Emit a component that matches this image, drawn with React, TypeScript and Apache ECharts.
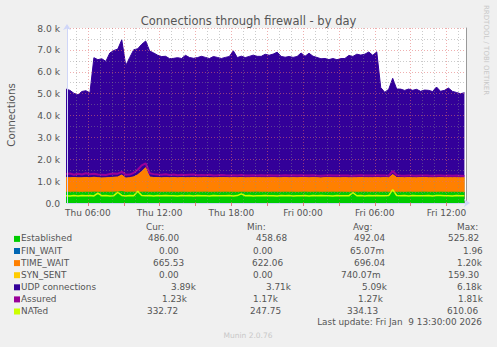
import React, { useEffect, useRef } from 'react';
import * as echarts from 'echarts';

// ---- data (minutes since Thu 00:00, sampled every 20 min from 04:10) ----
const START_MIN = 250;
const STEP_MIN = 20;

const established = [
  492, 488, 495, 490, 486, 493, 489, 497, 491, 488,
  494, 490, 496, 501, 520, 488, 492, 495, 490, 493,
  497, 489, 491, 494, 488, 492, 490, 495, 489, 493,
  491, 487, 494, 490, 492, 496, 488, 491, 493, 489,
  495, 490, 492, 488, 494, 491, 489, 493, 496, 490,
  492, 488, 495, 491, 489, 494, 490, 493, 487, 492,
  496, 489, 491, 494, 488, 492, 490, 495, 489, 493,
  491, 487, 494, 490, 492, 496, 488, 491, 493, 489,
  497, 491, 500, 490, 492, 488, 494, 491, 489, 493,
  496, 490, 492, 488, 495, 491, 489, 494, 490, 488,
  486,
];
const finWait = [
  0, 0, 0, 0, 0, 0, 0, 0, 0, 0, 0, 0, 0, 0, 0, 0, 0, 0, 0, 0,
  0, 0, 0, 0, 0, 0, 0, 0, 0, 0, 0, 0, 0, 0, 0, 0, 0, 0, 0, 0,
  0, 0, 0, 0, 0, 0, 0, 0, 0, 0, 0, 0, 0, 0, 0, 0, 0, 0, 0, 0,
  0, 0, 0, 0, 0, 0, 0, 0, 0, 0, 0, 0, 0, 0, 0, 0, 0, 0, 0, 0,
  0, 0, 0, 0, 0, 0, 0, 0, 0, 0, 0, 0, 0, 0, 0, 0, 0, 0, 0, 0, 0,
];
const timeWait = [
  670, 665, 672, 660, 668, 675, 662, 680, 668, 660,
  655, 672, 680, 690, 760, 650, 668, 700, 800, 950,
  1120, 700, 675, 668, 662, 670, 665, 672, 660, 668,
  664, 670, 676, 662, 668, 665, 671, 660, 667, 673,
  666, 662, 670, 665, 674, 661, 668, 672, 664, 669,
  663, 671, 666, 660, 668, 674, 662, 669, 665, 671,
  667, 662, 673, 665, 660, 669, 672, 664, 668, 663,
  670, 665, 661, 668, 674, 663, 669, 666, 672, 664,
  668, 662, 800, 675, 669, 664, 671, 666, 662, 668,
  673, 665, 660, 669, 667, 664, 670, 663, 668, 662,
  666,
];
const synSent = [
  0, 0, 0, 0, 0, 0, 0, 0, 0, 0, 0, 0, 0, 0, 0, 0, 0, 0, 0, 0,
  0, 0, 0, 0, 0, 0, 0, 0, 0, 0, 0, 0, 0, 0, 0, 0, 0, 0, 0, 0,
  0, 0, 0, 0, 0, 0, 0, 0, 0, 0, 0, 0, 0, 0, 0, 0, 0, 0, 0, 0,
  0, 0, 0, 0, 0, 0, 0, 0, 0, 0, 0, 0, 0, 0, 0, 0, 0, 0, 0, 0,
  0, 0, 0, 0, 0, 0, 0, 0, 0, 0, 0, 0, 0, 0, 0, 0, 0, 0, 0, 0, 0,
];
const udp = [
  4045, 3995, 3845, 3795, 3945, 3965, 3875, 5465, 5395, 5445,
  5325, 5695, 5795, 5845, 6180, 5145, 5495, 5810, 5760, 5810,
  5790, 5760, 5695, 5595, 5545, 5545, 5445, 5445, 5495, 5445,
  5595, 5495, 5445, 5495, 5545, 5495, 5445, 5545, 5495, 5445,
  5495, 5545, 5795, 5495, 5545, 5495, 5545, 5595, 5545, 5545,
  5645, 5595, 5645, 5745, 5545, 5495, 5545, 5495, 5545, 5695,
  5545, 5695, 5545, 5495, 5445, 5445, 5395, 5445, 5395, 5445,
  5445, 5595, 5545, 5645, 5595, 5645, 5745, 5595, 5745, 4125,
  3895, 4045, 4400, 4045, 4045, 3995, 4045, 3995, 4045, 3945,
  3995, 3995, 3945, 4145, 3945, 3995, 4095, 3945, 3895, 3845,
  3890,
];
const assured = [
  1320, 1350, 1290, 1340, 1300, 1360, 1310, 1340, 1300, 1290,
  1280, 1330, 1350, 1340, 1420, 1290, 1300, 1380, 1520, 1720,
  1810, 1360, 1320, 1300, 1290, 1310, 1280, 1300, 1270, 1290,
  1275, 1290, 1300, 1270, 1280, 1265, 1290, 1260, 1270, 1285,
  1265, 1255, 1270, 1260, 1275, 1255, 1262, 1270, 1258, 1264,
  1258, 1268, 1260, 1252, 1262, 1270, 1255, 1265, 1258, 1266,
  1260, 1252, 1268, 1258, 1250, 1262, 1266, 1256, 1260, 1255,
  1262, 1255, 1250, 1260, 1268, 1254, 1262, 1258, 1266, 1255,
  1260, 1250, 1460, 1268, 1258, 1250, 1262, 1255, 1250, 1258,
  1262, 1252, 1248, 1258, 1255, 1250, 1260, 1250, 1256, 1248,
  1230,
];
const nated = [
  335, 320, 340, 325, 345, 330, 338, 322, 450, 330,
  340, 325, 335, 490, 345, 320, 338, 330, 540, 345,
  330, 342, 325, 338, 330, 345, 328, 335, 322, 340,
  330, 338, 325, 342, 330, 335, 320, 340, 328, 336,
  330, 340, 325, 338, 420, 332, 340, 325, 335, 330,
  342, 328, 336, 325, 340, 330, 338, 322, 335, 330,
  338, 325, 340, 330, 345, 328, 335, 322, 340, 330,
  336, 328, 480, 332, 340, 325, 338, 330, 342, 328,
  335, 340, 610, 345, 330, 338, 325, 340, 330, 336,
  328, 340, 325, 338, 345, 330, 336, 322, 340, 330,
  333,
];

const xMin = 255;
const xMax = 2258;
const xLabelValues = [360, 720, 1080, 1440, 1800, 2160];
const xMajorValues = [360, 540, 720, 900, 1080, 1260, 1440, 1620, 1800, 1980, 2160];
const xMinorHours = [5, 7, 8, 10, 11, 13, 14, 16, 17, 19, 20, 22, 23, 25, 26, 28, 29, 31, 32, 34, 35, 37];
const yMinorValues = [500, 1500, 2500, 3500, 4500, 5500, 6500, 7500];

const legendNames = ['Established', 'FIN_WAIT', 'TIME_WAIT', 'SYN_SENT', 'UDP connections', 'Assured', 'NATed'];
const legendColors = ['#00CC00', '#0066B3', '#FF8000', '#FFCC00', '#330099', '#990099', '#CCFF00'];
const curText = ['486.00', '0.00', '665.53', '0.00', '3.89k', '1.23k', '332.72'];
const minText = ['458.68', '0.00', '622.06', '0.00', '3.71k', '1.17k', '247.75'];
const avgText = ['492.04', '65.07m', '696.04', '740.07m', '5.09k', '1.27k', '334.13'];
const maxText = ['525.82', '1.96', '1.20k', '159.30', '6.18k', '1.81k', '610.06'];
const headers = ['Cur:', 'Min:', 'Avg:', 'Max:'];

// text left positions (layout)
const headerX = [146, 247, 353, 457];
const curX = [148, 159, 153, 159, 171, 162, 147];
const minX = [256, 253, 252, 253, 266, 253, 250];
const avgX = [354, 350, 354, 341, 362, 358, 347];
const maxX = [448, 463, 457, 448, 457, 458, 447];

const FONT = '"DejaVu Sans", sans-serif';
const TEXT = '#555';

function fmtTime(v: number) {
  const day = v < 1440 ? 'Thu' : 'Fri';
  const m = v % 1440;
  const hh = String(Math.floor(m / 60)).padStart(2, '0');
  const mm = String(m % 60).padStart(2, '0');
  return `${day} ${hh}:${mm}`;
}

export default function App() {
  const ref = useRef<HTMLDivElement>(null);
  useEffect(() => {
    document.body.style.margin = '0';
    const chart = echarts.init(ref.current!, null, { renderer: 'svg' });
    const times = established.map((_, i) => START_MIN + STEP_MIN * i);

    // cumulative stack tops (rrdtool STACK)
    const layers = [established, finWait, timeWait, synSent, udp];
    const tops: number[][] = [];
    layers.forEach((arr, k) => {
      tops.push(arr.map((v, i) => v + (k > 0 ? tops[k - 1][i] : 0)));
    });
    const pair = (arr: number[]) => arr.map((v, i) => [times[i], v]);

    const area = (name: string, data: number[], color: string, lw: number) => ({
      name,
      type: 'line',
      data: pair(data),
      showSymbol: false,
      symbol: 'none',
      lineStyle: { width: lw, color },
      itemStyle: { color },
      areaStyle: { color, opacity: 1, origin: 'start' },
      z: 2,
    });

    const graphics: any[] = [];
    graphics.push({
      type: 'text', x: 248.5, y: 20.5, z: 100,
      style: { text: 'Connections through firewall - by day', fill: TEXT, font: `11.5px ${FONT}`, textAlign: 'center', textVerticalAlign: 'middle' },
    });
    graphics.push({
      type: 'text', x: 11, y: 115, rotation: Math.PI / 2, z: 100,
      style: { text: 'Connections', fill: TEXT, font: `10.3px ${FONT}`, textAlign: 'center', textVerticalAlign: 'middle' },
    });
    graphics.push({
      type: 'text', x: 486, y: 5, rotation: -Math.PI / 2, z: 100,
      style: { text: 'RRDTOOL / TOBI OETIKER', fill: '#c8c8c8', font: `7px ${FONT}`, textAlign: 'left', textVerticalAlign: 'middle' },
    });
    graphics.push({
      type: 'text', x: 248, y: 335, z: 100,
      style: { text: 'Munin 2.0.76', fill: '#c8c8c8', font: `7.5px ${FONT}`, textAlign: 'center', textVerticalAlign: 'middle' },
    });
    headers.forEach((h, k) => {
      graphics.push({
        type: 'text', x: headerX[k], y: 226.7, z: 100,
        style: { text: h, fill: TEXT, font: `8.9px ${FONT}`, textAlign: 'left', textVerticalAlign: 'middle' },
      });
    });
    legendNames.forEach((n, i) => {
      const y = 238.4 + 12.1 * i;
      graphics.push({ type: 'rect', z: 100, shape: { x: 14, y: y - 2.5, width: 6, height: 6 }, style: { fill: legendColors[i] } });
      const cols: [string, number][] = [
        [n, 21], [curText[i], curX[i]], [minText[i], minX[i]], [avgText[i], avgX[i]], [maxText[i], maxX[i]],
      ];
      cols.forEach(([t, x]) => {
        graphics.push({
          type: 'text', x, y, z: 100,
          style: { text: t, fill: TEXT, font: `8.9px ${FONT}`, textAlign: 'left', textVerticalAlign: 'middle' },
        });
      });
    });
    graphics.push({
      type: 'text', x: 482, y: 321.7, z: 100,
      style: { text: 'Last update: Fri Jan  9 13:30:00 2026', fill: TEXT, font: `8.9px ${FONT}`, textAlign: 'right', textVerticalAlign: 'middle' },
    });

    const option: any = {
      animation: false,
      backgroundColor: '#F0F0F0',
      grid: { left: 67, right: 31, top: 28, bottom: 144, show: true, backgroundColor: '#FFFFFF', borderWidth: 0 },
      xAxis: [
        {
          type: 'value', min: xMin, max: xMax, position: 'bottom', z: 5,
          axisLine: { show: true, lineStyle: { color: '#CFD6F8', width: 1 }, symbol: ['none', 'arrow'], symbolSize: [6, 6], symbolOffset: [0, 4] },
          axisTick: { show: true, customValues: xMajorValues, length: 3, lineStyle: { color: '#e08080' } },
          axisLabel: { customValues: xLabelValues, formatter: (v: number) => fmtTime(v), color: TEXT, fontSize: 9, fontFamily: FONT, margin: 5 },
          splitLine: { show: true, lineStyle: { color: 'rgba(225,110,110,0.55)', type: [1, 2], width: 1 } },
        },
        {
          type: 'value', min: xMin, max: xMax, position: 'top', z: 4,
          axisLine: { show: false }, axisLabel: { show: false },
          axisTick: { show: false, customValues: xMinorHours.map((h) => h * 60) },
          splitLine: { show: true, lineStyle: { color: 'rgba(140,140,140,0.45)', type: [1, 2], width: 1 } },
        },
      ],
      yAxis: [
        {
          type: 'value', min: 0, max: 8000, interval: 1000, position: 'left', z: 5,
          axisLine: { show: true, lineStyle: { color: '#CFD6F8', width: 1 }, symbol: ['none', 'arrow'], symbolSize: [6, 6], symbolOffset: [0, 4] },
          axisTick: { show: false },
          axisLabel: { formatter: (v: number) => (v === 0 ? '0.0' : (v / 1000).toFixed(1) + ' k'), color: TEXT, fontSize: 9.2, fontFamily: FONT, margin: 7 },
          splitLine: { show: true, lineStyle: { color: 'rgba(225,110,110,0.55)', type: [1, 2], width: 1 } },
        },
        {
          type: 'value', min: 0, max: 8000, position: 'right', z: 4,
          axisLine: { show: true, lineStyle: { color: '#999', width: 1 } },
          axisLabel: { show: false },
          axisTick: { show: false, customValues: yMinorValues },
          splitLine: { show: true, lineStyle: { color: 'rgba(140,140,140,0.45)', type: [1, 2], width: 1 } },
        },
      ],
      graphic: graphics,
      series: [
        area('UDP connections', tops[4], '#330099', 1),
        area('SYN_SENT', tops[3], '#FFCC00', 0),
        area('TIME_WAIT', tops[2], '#FF8000', 1),
        area('FIN_WAIT', tops[1], '#0066B3', 0),
        area('Established', tops[0], '#00CC00', 1),
        {
          name: 'Assured', type: 'line', data: pair(assured), showSymbol: false, symbol: 'none',
          lineStyle: { width: 2, color: '#990099' }, itemStyle: { color: '#990099' }, z: 3,
        },
        {
          name: 'NATed', type: 'line', data: pair(nated), showSymbol: false, symbol: 'none',
          lineStyle: { width: 1.5, color: '#CCFF00' }, itemStyle: { color: '#CCFF00' }, z: 3,
        },
      ],
    };
    chart.setOption(option);
    return () => chart.dispose();
  }, []);
  return <div ref={ref} style={{ width: 497, height: 347 }} />;
}
